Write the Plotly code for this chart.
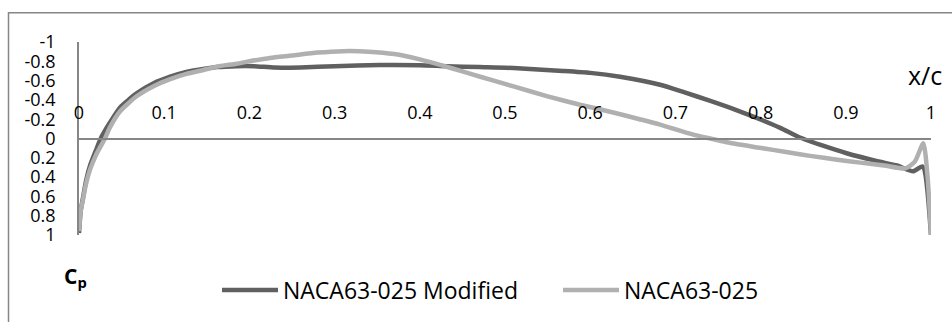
import plotly.graph_objects as go

# ---------------- data ----------------
x_mod = [0.0, 0.002, 0.005, 0.008, 0.013, 0.02, 0.0255, 0.036, 0.048, 0.068, 0.087, 0.107,
         0.126, 0.146, 0.162, 0.185, 0.205, 0.23, 0.26, 0.3, 0.353, 0.4, 0.431, 0.47, 0.51,
         0.568, 0.6, 0.635, 0.682, 0.71, 0.741, 0.77, 0.799, 0.823, 0.846, 0.875, 0.9, 0.937,
         0.96, 0.979, 0.99, 1.0]
cp_mod = [0.98, 0.75, 0.6, 0.45, 0.28, 0.12, 0.0, -0.16, -0.32, -0.47, -0.57, -0.64,
          -0.69, -0.72, -0.74, -0.75, -0.75, -0.735, -0.737, -0.75, -0.762, -0.76, -0.75, -0.74, -0.73,
          -0.70, -0.68, -0.64, -0.557, -0.48, -0.39, -0.30, -0.20, -0.11, -0.01, 0.08, 0.15, 0.235,
          0.28, 0.34, 0.29, 1.0]

x_base = [0.0, 0.002, 0.005, 0.008, 0.013, 0.02, 0.0305, 0.036, 0.048, 0.068, 0.087, 0.107,
          0.126, 0.146, 0.162, 0.185, 0.2, 0.224, 0.25, 0.28, 0.31, 0.34, 0.37, 0.40, 0.427,
          0.45, 0.471, 0.51, 0.549, 0.588, 0.627, 0.658, 0.682, 0.721, 0.741, 0.77, 0.799, 0.83,
          0.858, 0.89, 0.917, 0.945, 0.97, 0.981, 0.991, 0.996, 1.0]
cp_base = [0.96, 0.75, 0.62, 0.48, 0.32, 0.17, 0.0, -0.11, -0.28, -0.44, -0.54, -0.615,
           -0.67, -0.71, -0.745, -0.775, -0.8, -0.835, -0.86, -0.89, -0.905, -0.9, -0.875, -0.82, -0.755,
           -0.695, -0.64, -0.54, -0.44, -0.35, -0.27, -0.2, -0.144, -0.04, 0.0, 0.055, 0.096, 0.14,
           0.18, 0.22, 0.25, 0.28, 0.31, 0.24, 0.05, 0.4, 1.0]

series_names = ["NACA63-025 Modified", "NACA63-025"]
x_tickvals = [0, 0.1, 0.2, 0.3, 0.4, 0.5, 0.6, 0.7, 0.8, 0.9, 1]
x_ticktext = ["0", "0.1", "0.2", "0.3", "0.4", "0.5", "0.6", "0.7", "0.8", "0.9", "1"]
y_tickvals = [-1, -0.8, -0.6, -0.4, -0.2, 0, 0.2, 0.4, 0.6, 0.8, 1]
y_ticktext = ["-1", "-0.8", "-0.6", "-0.4", "-0.2", "0", "0.2", "0.4", "0.6", "0.8", "1"]

# ---------------- layout helpers ----------------
W, H = 952, 322
L, R, T, B = 79, 21, 42, 86
PW, PH = W - L - R, H - T - B

def px_x(p):
    return (p - L) / PW

def px_y(p):
    return (H - B - p) / PH

FONT = "Open Sans"
AXIS_COL = "#868686"

fig = go.Figure()
fig.add_trace(go.Scatter(x=x_mod, y=cp_mod, mode="lines", name=series_names[0],
                         line=dict(color="#606060", width=4.5, shape="spline", smoothing=0.6)))
fig.add_trace(go.Scatter(x=x_base, y=cp_base, mode="lines", name=series_names[1],
                         line=dict(color="#b0b0b0", width=4.5, shape="spline", smoothing=0.6)))

fig.update_layout(
    width=W, height=H,
    margin=dict(l=L, r=R, t=T, b=B, pad=0),
    paper_bgcolor="white", plot_bgcolor="white",
    font=dict(family=FONT, size=18, color="black"),
    xaxis=dict(range=[0, 1], anchor="free", position=0.5, side="top",
               tickvals=x_tickvals, ticktext=x_ticktext, showgrid=False, zeroline=False,
               showline=True, linecolor=AXIS_COL, linewidth=1.5, ticks="",
               ticklabelstandoff=12, tickfont=dict(size=18)),
    yaxis=dict(range=[1, -1], tickvals=y_tickvals, ticktext=y_ticktext,
               showgrid=False, zeroline=False, showline=True, linecolor=AXIS_COL,
               linewidth=1.5, ticks="", ticklabelstandoff=18, tickfont=dict(size=18)),
    legend=dict(orientation="h", x=px_x(217), y=px_y(290), xanchor="left", yanchor="middle",
                font=dict(size=23), itemwidth=56, bgcolor="rgba(0,0,0,0)",
                entrywidth=270, entrywidthmode="pixels",
                traceorder="normal", tracegroupgap=0),
    showlegend=True,
)

fig.add_annotation(text="x/c", xref="paper", yref="paper", x=px_x(925), y=px_y(75),
                   showarrow=False, xanchor="center", yanchor="middle",
                   font=dict(size=25, family=FONT))
fig.add_annotation(text="<b>C</b><sub><b>p</b></sub>", xref="paper", yref="paper",
                   x=px_x(62), y=px_y(278), showarrow=False, xanchor="left", yanchor="middle",
                   font=dict(size=21, family=FONT))

# chart-area border (left and top edges visible)
fig.add_shape(type="rect", xref="paper", yref="paper",
              x0=px_x(8.5), x1=px_x(W + 20), y0=px_y(H + 20), y1=px_y(12.5),
              line=dict(color=AXIS_COL, width=1.5), fillcolor="rgba(0,0,0,0)", layer="below")

fig.write_html("out.html")
